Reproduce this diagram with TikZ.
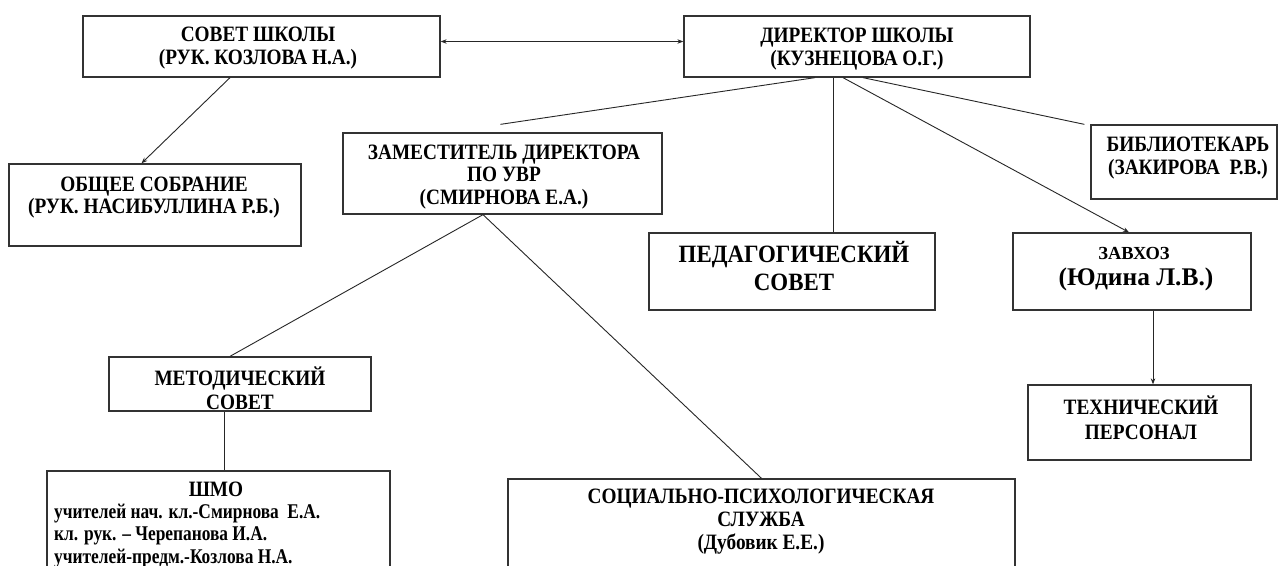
\documentclass[tikz,border=0pt]{standalone}
\usepackage{fontspec}
\setmainfont{Liberation Serif}[Ligatures=TeX]
\newfontfamily\condA{Liberation Serif}[FakeStretch=0.88,Ligatures=TeX]
\newfontfamily\condB{Liberation Serif}[FakeStretch=0.92,Ligatures=TeX]
\newfontfamily\condC{Liberation Serif}[FakeStretch=0.83,Ligatures=TeX]
\usetikzlibrary{arrows.meta,calc,fit}
\begin{document}
\begin{tikzpicture}[x=1bp,y=-1bp,
  box/.style={draw=black!80, line width=1.3bp, inner sep=0pt, rectangle},
  txt/.style={inner sep=0pt, align=center, font=\condA\fontsize{22}{22.5}\selectfont\bfseries},
  ln/.style={draw=black!85, line width=0.9bp},
  arr/.style={ln, -{Stealth[length=6bp,width=4.5bp]}},
  dbl/.style={ln, {Stealth[length=6bp,width=4.5bp]}-{Stealth[length=6bp,width=4.5bp]}}]
\useasboundingbox (0,0) rectangle (1279,566);
\clip (0,0) rectangle (1279,566);
\fill[white] (0,0) rectangle (1279,566);
% boxes
\node[box, fit={(83,16) (440,77)}] (sovet) {};
\node[box, fit={(684,16) (1030,77)}] (dir) {};
\node[box, fit={(9,164) (301,246)}] (obsh) {};
\node[box, fit={(343,133) (662,214)}] (zam) {};
\node[box, fit={(1091,125) (1277,199)}] (bibl) {};
\node[box, fit={(649,233) (935,310)}] (ped) {};
\node[box, fit={(1013,233) (1251,310)}] (zav) {};
\node[box, fit={(1028,385) (1251,460)}] (tech) {};
\node[box, fit={(109,357) (371,411)}] (met) {};
\node[box, fit={(47,471) (390,610)}] (shmo) {};
\node[box, fit={(508,479) (1015,610)}] (soc) {};
% texts
\node[txt] (sovett) at (258,48) {СОВЕТ ШКОЛЫ\\(РУК. КОЗЛОВА Н.А.)};
\node[txt] (dirt) at (857,49) {ДИРЕКТОР ШКОЛЫ\\(КУЗНЕЦОВА О.Г.)};
\node[txt] (obsht) at (154,197.5) {ОБЩЕЕ СОБРАНИЕ\\(РУК. НАСИБУЛЛИНА Р.Б.)};
\node[txt] (zamt) at (504,177) {ЗАМЕСТИТЕЛЬ ДИРЕКТОРА\\ПО УВР\\(СМИРНОВА Е.А.)};
\node[txt] (biblt) at (1188,158) {БИБЛИОТЕКАРЬ\\(ЗАКИРОВА~ Р.В.)};
\node[txt, font=\condB\fontsize{25}{29}\selectfont\bfseries] (pedt) at (794,266) {ПЕДАГОГИЧЕСКИЙ\\СОВЕТ};
\node[txt, font=\fontsize{18.5}{20}\selectfont\bfseries] (zavt) at (1134,253) {ЗАВХОЗ};
\node[txt, font=\fontsize{25.5}{28}\selectfont\bfseries] (zavn) at (1136,279) {(Юдина Л.В.)};
\node[txt, font=\condA\fontsize{22}{25}\selectfont\bfseries] (techt) at (1141,418) {ТЕХНИЧЕСКИЙ\\ПЕРСОНАЛ};
\node[txt, font=\condA\fontsize{22}{24}\selectfont\bfseries] (mett) at (240,388) {МЕТОДИЧЕСКИЙ\\СОВЕТ};
\node[txt] (shmot) at (216,489.5) {ШМО};
\node[txt, align=left, anchor=west, font=\condC\fontsize{21}{23}\selectfont\bfseries] (shmol) at (54,536) {учителей нач. кл.-Смирнова~ Е.А.\\кл. рук. – Черепанова И.А.\\учителей-предм.-Козлова Н.А.};
\node[txt, font=\condA\fontsize{22}{23}\selectfont\bfseries] (soct) at (761,522) {СОЦИАЛЬНО-ПСИХОЛОГИЧЕСКАЯ\\СЛУЖБА\\(Дубовик Е.Е.)};
% connectors
\coordinate (a1) at ($(sovet.east)+(0,-5)$);
\draw[dbl] (a1) -- (a1 -| dir.west);
\draw[arr] ($(sovet.south)+(-31.5,0)$) -- ($(obsh.north)+(-13.5,0)$);
\draw[ln] ($(dir.south)+(-42,0)$) -- ($(zam.north)+(-2,-8)$);
\coordinate (p1) at ($(dir.south)+(-24,0)$);
\draw[ln] (p1) -- (p1 |- ped.north);
\draw[arr] ($(dir.south)+(-14,0)$) -- ($(zav.north)+(-3,0)$);
\draw[ln] ($(dir.south)+(6,0)$) -- ($(bibl.north west)+(-6,0)$);
\coordinate (p2) at ($(zav.south)+(21,0)$);
\draw[arr] (p2) -- (p2 |- tech.north);
\coordinate (zb) at ($(zam.south)+(-19.5,0)$);
\draw[ln] (zb) -- ($(met.north)+(-10,0)$);
\draw[ln] (zb) -- (soc.north);
\coordinate (p3) at ($(met.south)+(-16,0)$);
\draw[ln] (p3) -- (p3 |- shmo.north);
\end{tikzpicture}
\end{document}
